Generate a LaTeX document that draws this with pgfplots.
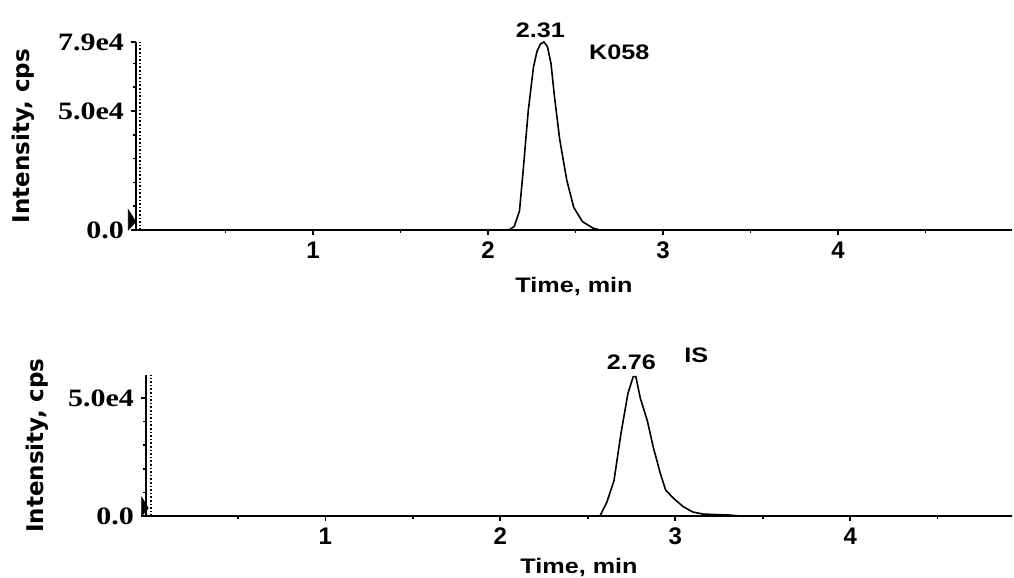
\documentclass[border=0pt]{standalone}
\usepackage{fontspec}
\setmainfont{Liberation Sans}
\newfontfamily\ytickfont[FakeStretch=1.2]{Liberation Serif}
\newfontfamily\widesans[FakeStretch=1.2]{Liberation Sans}
\newfontfamily\ylabfont{DejaVu Sans}
\usepackage{pgfplots}
\pgfplotsset{compat=1.18}

\pgfplotsset{chrom/.style={
  scale only axis,
  axis x line*=bottom, axis y line*=left,
  axis line style={-, line width=1pt},
  tick align=outside,
  major tick length=2.5pt, minor tick length=1.5pt,
  every tick/.style={black, line width=0.8pt},
  xtick={1,2,3,4}, xticklabels={1,2,3,4},
  minor xtick={0.5,1.5,2.5,3.5,4.5},
  xticklabel style={font=\bfseries\fontsize{12}{12}\selectfont},
  yticklabel style={font=\ytickfont\bfseries\fontsize{12.5}{12.5}\selectfont},
  scaled y ticks=false,
  ymin=0, clip=false,
  xlabel={Time, min}, ylabel={Intensity, cps},
  xlabel style={font=\widesans\bfseries\fontsize{10.5}{11}\selectfont, anchor=center},
  ylabel style={font=\ylabfont\bfseries\fontsize{11.5}{12}\selectfont, anchor=center},
}}
\tikzset{trace/.style={black, line width=0.8pt, mark=none}}
\newcommand{\pk}{\widesans\bfseries\fontsize{10.5}{11}\selectfont}

\begin{document}
\begin{tikzpicture}
\path[use as bounding box] (-68pt,-174pt) rectangle (439pt,115pt);

% K058
\begin{axis}[chrom,
  at={(0pt,0pt)}, anchor=south west,
  width=438pt, height=94pt,
  xmin=-0.011, xmax=4.994, ymax=79000,
  ytick={0,50000,79000}, yticklabels={0.0,5.0e4,7.9e4},
  minor ytick={10000,20000,30000,40000,60000,70000},
  xlabel style={at={(axis description cs:0.5,-0.298)}},
  ylabel style={at={(axis description cs:-0.129,0.5)}},
]
\addplot[trace] coordinates {
  (0,0) (2.12,0) (2.15,1500) (2.18,8000) (2.20,24000) (2.23,50000)
  (2.26,68500) (2.28,75000) (2.30,78200) (2.32,79000) (2.34,77000)
  (2.36,70000) (2.38,56000) (2.41,38000) (2.45,21000) (2.49,9500)
  (2.54,3500) (2.60,800) (2.64,0) (4.994,0)
};
\addplot[black, line width=0.8pt, densely dotted, mark=none] coordinates {(0.012,0) (0.012,79000)};
\addplot[black, fill=black, line width=0.3pt, mark=none] coordinates {(-0.055,0) (-0.055,8500) (-0.012,3500)} -- cycle;
\node[font=\pk] at (axis cs:2.30,84000) {2.31};
\node[font=\pk] at (axis cs:2.75,74800) {K058};
\end{axis}

% IS
\begin{axis}[chrom,
  at={(5pt,-143pt)}, anchor=south west,
  width=433pt, height=70.5pt,
  xmin=-0.025, xmax=4.925, ymax=59700,
  ytick={0,50000}, yticklabels={0.0,5.0e4},
  minor ytick={10000,20000,30000,40000},
  xlabel style={at={(axis description cs:0.5,-0.365)}},
  ylabel style={at={(axis description cs:-0.126,0.5)}},
]
\addplot[trace] coordinates {
  (0,0) (2.57,0) (2.61,6000) (2.65,15000) (2.69,35000) (2.73,52000)
  (2.76,59000) (2.775,59000) (2.80,50000) (2.84,40500) (2.875,29000)
  (2.915,18000) (2.945,11000) (2.99,7500) (3.045,4000) (3.10,1700)
  (3.16,800) (3.31,400) (3.37,0) (4.925,0)
};
\addplot[black, line width=0.8pt, densely dotted, mark=none] coordinates {(0.005,0) (0.005,59700)};
\addplot[black, fill=black, line width=0.3pt, mark=none] coordinates {(-0.05,0) (-0.05,8000) (-0.012,3300)} -- cycle;
\node[font=\pk] at (axis cs:2.75,65300) {2.76};
\node[font=\pk] at (axis cs:3.12,68200) {IS};
\end{axis}
\end{tikzpicture}
\end{document}
